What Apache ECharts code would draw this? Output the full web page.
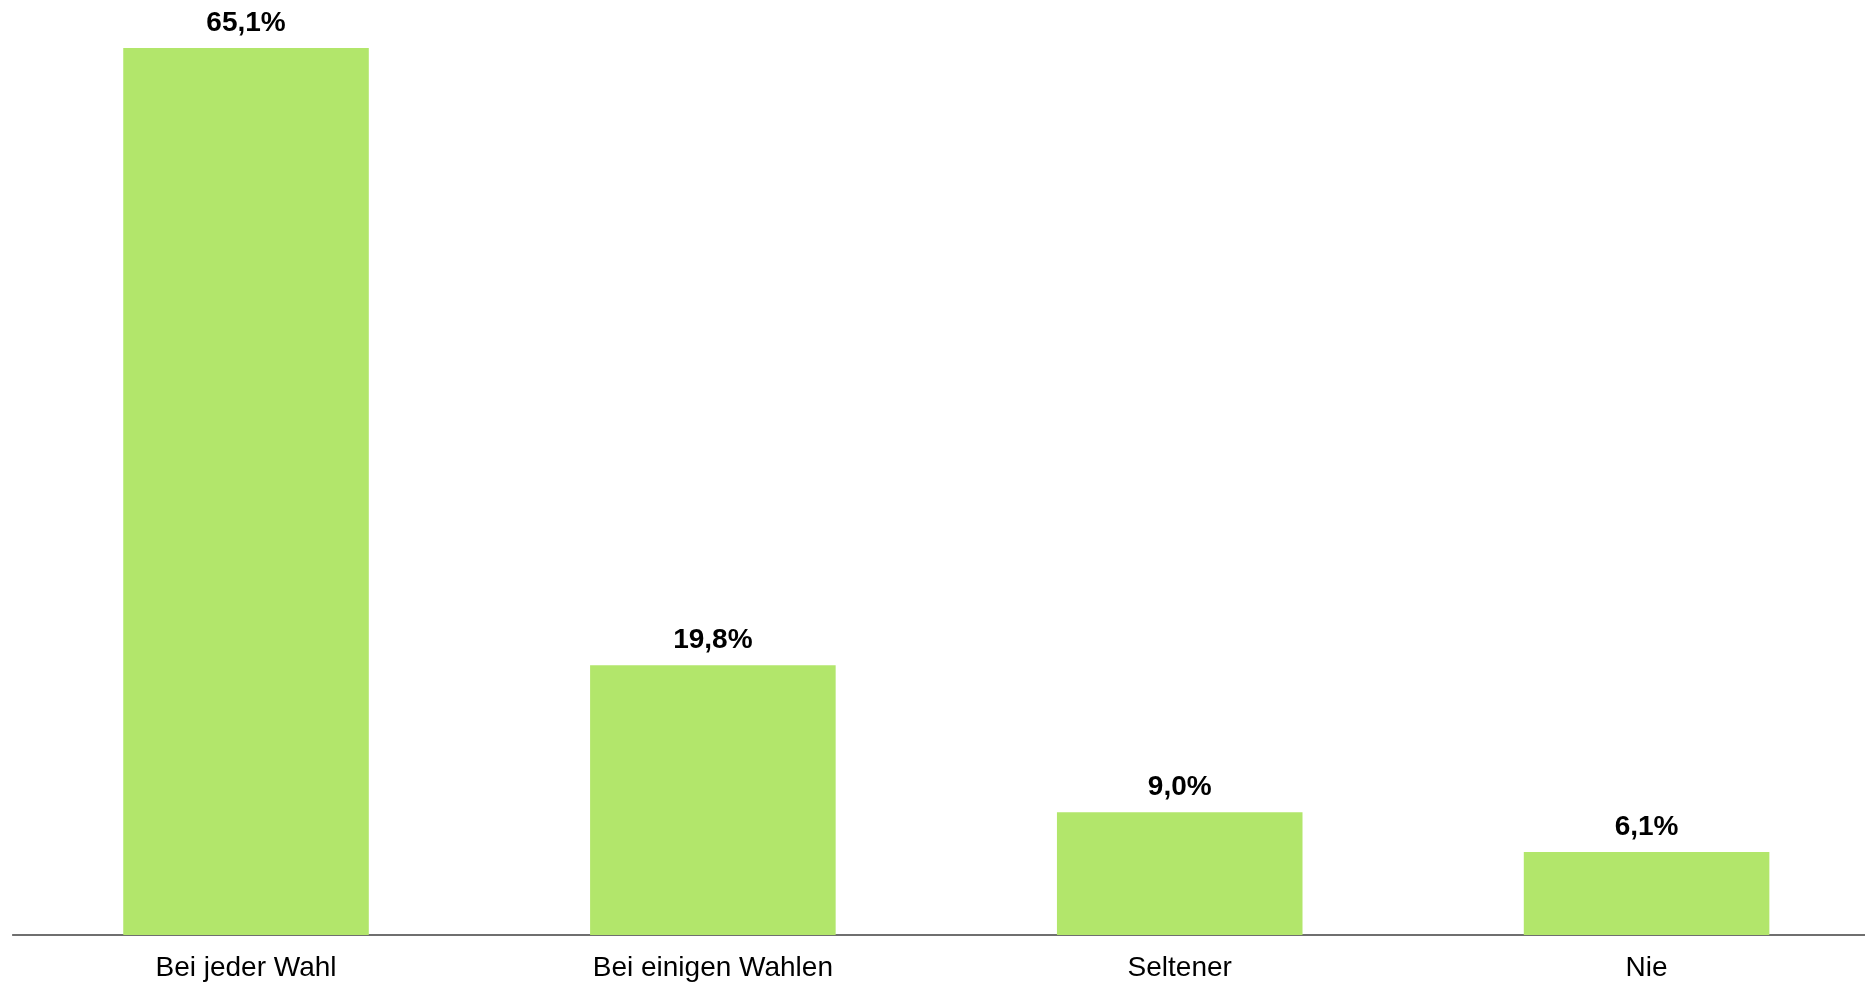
<!DOCTYPE html>
<html><head><meta charset="utf-8">
<script src="https://cdn.jsdelivr.net/npm/echarts@6/dist/echarts.min.js"></script>
<style>html,body{margin:0;padding:0;background:#fff}#c{width:1865px;height:987px}</style>
</head><body><div id="c"></div>
<script>
const categories = ['Bei jeder Wahl', 'Bei einigen Wahlen', 'Seltener', 'Nie'];
const values = [65.1, 19.8, 9.0, 6.1];

const chart = echarts.init(document.getElementById('c'));
chart.setOption({
  animation: false,
  grid: { left: 12.6, right: -15, top: 48, bottom: 52, outerBoundsMode: 'none', containLabel: false },
  xAxis: {
    type: 'category',
    data: categories,
    axisTick: { show: false },
    axisLine: { lineStyle: { color: '#404040', width: 1.5 } },
    axisLabel: { color: '#000', fontFamily: 'Liberation Sans, Arial, sans-serif', fontSize: 28, margin: 19 }
  },
  yAxis: { type: 'value', min: 0, max: 65.1, show: false, splitLine: { show: false } },
  series: [{
    type: 'bar',
    data: values,
    barWidth: '52.6%',
    itemStyle: { color: '#b2e66b' },
    label: {
      show: true, position: 'top', distance: 11,
      color: '#000', fontWeight: 'bold', fontSize: 28,
      fontFamily: 'Liberation Sans, Arial, sans-serif',
      formatter: p => p.value.toFixed(1).replace('.', ',') + '%'
    }
  }]
});
</script></body></html>
